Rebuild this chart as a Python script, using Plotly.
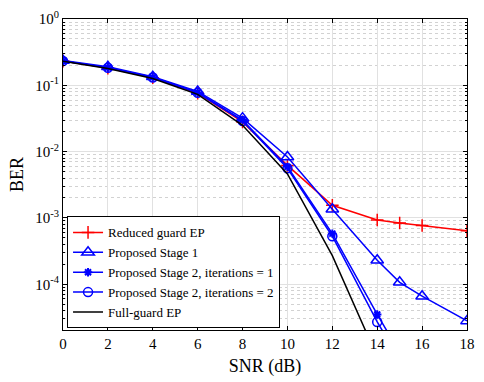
import plotly.graph_objects as go

snr_red = [0, 2, 4, 6, 8, 10, 12, 14, 15, 16, 18]
ber_red = [0.232, 0.182, 0.13, 0.076, 0.028, 0.0062, 1.55e-3, 9.3e-4, 8.4e-4, 7.7e-4, 6.4e-4]

snr_s1 = [0, 2, 4, 6, 8, 10, 12, 14, 15, 16, 18]
ber_s1 = [0.236, 0.19, 0.135, 0.081, 0.032, 0.0083, 1.35e-3, 2.3e-4, 1.07e-4, 6.6e-5, 2.8e-5]

snr_s2a = [0, 2, 4, 6, 8, 10, 12, 14, 16]
ber_s2a = [0.233, 0.185, 0.132, 0.078, 0.03, 0.0059, 5.8e-4, 3.5e-5, 2.5e-6]

snr_s2b = [0, 2, 4, 6, 8, 10, 12, 14, 16]
ber_s2b = [0.233, 0.184, 0.131, 0.077, 0.029, 0.0056, 5.3e-4, 2.7e-5, 2.0e-6]

snr_full = [0, 2, 4, 6, 8, 10, 12, 14]
ber_full = [0.23, 0.18, 0.127, 0.073, 0.025, 0.0046, 2.7e-4, 8e-6]

yticks = [1e-4, 1e-3, 1e-2, 1e-1, 1]
ytext = ["10<sup>-4</sup>", "10<sup>-3</sup>", "10<sup>-2</sup>", "10<sup>-1</sup>", "10<sup>0</sup>"]
yminor = [m * d for d in [1e-5, 1e-4, 1e-3, 1e-2, 1e-1] for m in range(2, 10)]

blue = "rgb(0,0,255)"
red = "rgb(255,0,0)"
serif = "Liberation Serif, Times New Roman, serif"

fig = go.Figure()
fig.add_trace(go.Scatter(x=snr_red, y=ber_red, name="Reduced guard EP", mode="lines+markers",
                         line=dict(color=red, width=1.5),
                         marker=dict(symbol="cross-thin", size=9, line=dict(color=red, width=1.5))))
fig.add_trace(go.Scatter(x=snr_s1, y=ber_s1, name="Proposed Stage 1", mode="lines+markers",
                         line=dict(color=blue, width=1.5),
                         marker=dict(symbol="triangle-up-open", size=11, color=blue, line=dict(color=blue, width=1.5))))
fig.add_trace(go.Scatter(x=snr_s2a, y=ber_s2a, name="Proposed Stage 2, iterations = 1", mode="lines+markers",
                         line=dict(color=blue, width=1.5),
                         marker=dict(symbol="asterisk-open", size=7, color=blue, line=dict(color=blue, width=2))))
fig.add_trace(go.Scatter(x=snr_s2b, y=ber_s2b, name="Proposed Stage 2, iterations = 2", mode="lines+markers",
                         line=dict(color=blue, width=1.5),
                         marker=dict(symbol="circle-open", size=9, color=blue, line=dict(color=blue, width=1.5))))
fig.add_trace(go.Scatter(x=snr_full, y=ber_full, name="Full-guard EP", mode="lines",
                         line=dict(color="black", width=1.5)))

fig.update_layout(
    width=484, height=382,
    margin=dict(l=63, r=17, t=9, b=52),
    paper_bgcolor="white", plot_bgcolor="white",
    font=dict(family=serif, size=15, color="black"),
    legend=dict(x=0.01, y=0.005, xanchor="left", yanchor="bottom",
                bgcolor="white", bordercolor="black", borderwidth=1,
                font=dict(family=serif, size=13), tracegroupgap=0, itemwidth=30),
    showlegend=True,
)
fig.update_xaxes(
    range=[0, 18], tickvals=list(range(0, 19, 2)), title=dict(text="SNR (dB)", standoff=8),
    showgrid=True, gridcolor="rgb(225,225,225)", gridwidth=1,
    showline=True, linecolor="black", linewidth=1, mirror="ticks",
    ticks="inside", ticklen=4, tickcolor="black", zeroline=False,
    ticklabeloverflow="allow",
)
fig.update_yaxes(
    type="log", range=[-4.69, 0.0005], tickvals=yticks, ticktext=ytext,
    title=dict(text="BER", standoff=6),
    showgrid=True, gridcolor="rgb(225,225,225)", gridwidth=1,
    minor=dict(tickvals=yminor, showgrid=True, gridcolor="rgb(210,210,210)", griddash="dot",
               ticks="inside", ticklen=2, tickcolor="black"),
    showline=True, linecolor="black", linewidth=1, mirror="ticks",
    ticks="inside", ticklen=4, tickcolor="black", zeroline=False,
    ticklabeloverflow="allow",
)

fig.write_html("out.html")
